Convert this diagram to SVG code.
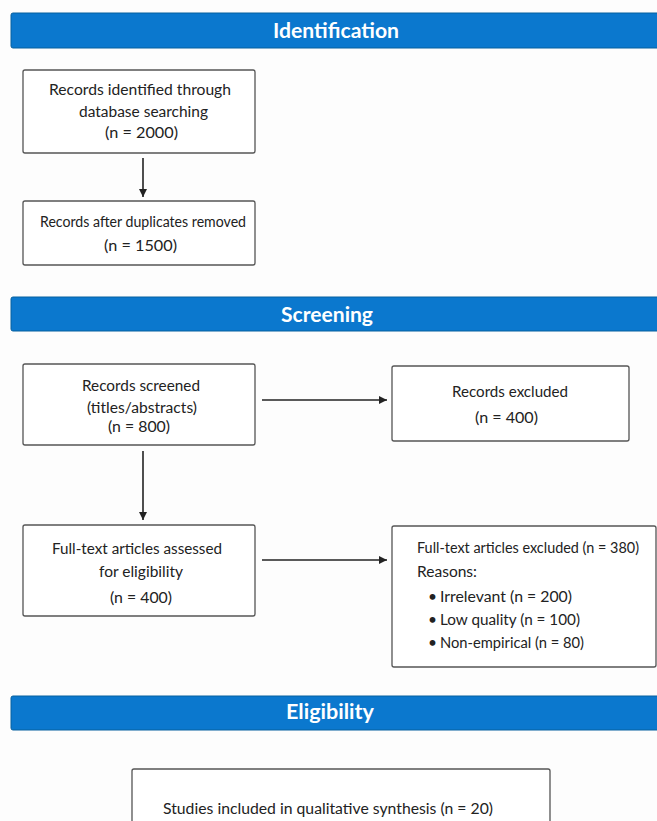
<svg xmlns="http://www.w3.org/2000/svg" width="657" height="821" viewBox="0 0 657 821">
<defs>
<marker id="ah" viewBox="0 0 10 10" refX="10" refY="5" markerWidth="8" markerHeight="8" markerUnits="userSpaceOnUse" orient="auto">
<path d="M0,0 L10,5 L0,10 Z" fill="#222"/>
</marker>
</defs>
<style>
.banner{fill:#0B78CE;stroke:#07609f;stroke-width:1}
.btxt{font-family:Lato,"Open Sans",sans-serif;font-weight:bold;font-size:21.5px;fill:#fff}
.box{fill:#fff;stroke:#555;stroke-width:1.3}
.t{font-family:Lato,"Noto Sans",sans-serif;font-size:15.5px;fill:#222}
.conn{stroke:#222;stroke-width:1.6;fill:none}
</style>
<rect width="657" height="821" fill="#fdfdfd"/>
<g id="banner-identification">
<rect class="banner" x="11" y="13" width="660" height="35" rx="2"/>
<text class="btxt" x="273" y="38" textLength="126" lengthAdjust="spacingAndGlyphs">Identification</text>
</g>
<g id="banner-screening">
<rect class="banner" x="11" y="297" width="660" height="34" rx="2"/>
<text class="btxt" x="281" y="322" textLength="92" lengthAdjust="spacingAndGlyphs">Screening</text>
</g>
<g id="banner-eligibility">
<rect class="banner" x="11" y="696" width="660" height="34" rx="2"/>
<text class="btxt" x="286" y="719" textLength="88" lengthAdjust="spacingAndGlyphs">Eligibility</text>
</g>
<g id="node-identified">
<rect class="box" x="23" y="70" width="232" height="83" rx="2"/>
<text class="t" x="49" y="95" textLength="182" lengthAdjust="spacingAndGlyphs">Records identified through</text>
<text class="t" x="79" y="117" textLength="129" lengthAdjust="spacingAndGlyphs">database searching</text>
<text class="t" x="105" y="138" textLength="73" lengthAdjust="spacingAndGlyphs">(n = 2000)</text>
</g>
<g id="node-duplicates">
<rect class="box" x="23" y="201" width="232" height="64" rx="2"/>
<text class="t" x="40" y="227" textLength="206" lengthAdjust="spacingAndGlyphs">Records after duplicates removed</text>
<text class="t" x="104" y="251" textLength="73" lengthAdjust="spacingAndGlyphs">(n = 1500)</text>
</g>
<g id="node-screened">
<rect class="box" x="23" y="364" width="232" height="81" rx="2"/>
<text class="t" x="82" y="391" textLength="118" lengthAdjust="spacingAndGlyphs">Records screened</text>
<text class="t" x="87" y="413" textLength="110" lengthAdjust="spacingAndGlyphs">(titles/abstracts)</text>
<text class="t" x="108" y="432" textLength="62" lengthAdjust="spacingAndGlyphs">(n = 800)</text>
</g>
<g id="node-excluded">
<rect class="box" x="392" y="366" width="237" height="75" rx="2"/>
<text class="t" x="452" y="397" textLength="116" lengthAdjust="spacingAndGlyphs">Records excluded</text>
<text class="t" x="475" y="423" textLength="63" lengthAdjust="spacingAndGlyphs">(n = 400)</text>
</g>
<g id="node-fulltext">
<rect class="box" x="23" y="525" width="232" height="91" rx="2"/>
<text class="t" x="52" y="554" textLength="170" lengthAdjust="spacingAndGlyphs">Full-text articles assessed</text>
<text class="t" x="99" y="577" textLength="84" lengthAdjust="spacingAndGlyphs">for eligibility</text>
<text class="t" x="110" y="603" textLength="62" lengthAdjust="spacingAndGlyphs">(n = 400)</text>
</g>
<g id="node-fulltext-excluded">
<rect class="box" x="392" y="526" width="264" height="141" rx="2"/>
<text class="t" x="417" y="553" textLength="222" lengthAdjust="spacingAndGlyphs">Full-text articles excluded (n = 380)</text>
<text class="t" x="417" y="577" textLength="60" lengthAdjust="spacingAndGlyphs">Reasons:</text>
<text class="t" x="428" y="602">•</text>
<text class="t" x="440" y="602" textLength="132" lengthAdjust="spacingAndGlyphs">Irrelevant (n = 200)</text>
<text class="t" x="428" y="625">•</text>
<text class="t" x="440" y="625" textLength="140" lengthAdjust="spacingAndGlyphs">Low quality (n = 100)</text>
<text class="t" x="428" y="648">•</text>
<text class="t" x="440" y="648" textLength="144" lengthAdjust="spacingAndGlyphs">Non-empirical (n = 80)</text>
</g>
<g id="node-included">
<rect class="box" x="132" y="769" width="418" height="70" rx="2"/>
<text class="t" x="163" y="814" textLength="330" lengthAdjust="spacingAndGlyphs">Studies included in qualitative synthesis (n = 20)</text>
</g>
<g id="connectors">
<line class="conn" x1="143" y1="158" x2="143" y2="197" marker-end="url(#ah)"/>
<line class="conn" x1="262" y1="400" x2="387" y2="400" marker-end="url(#ah)"/>
<line class="conn" x1="143" y1="451" x2="143" y2="520" marker-end="url(#ah)"/>
<line class="conn" x1="262" y1="560" x2="387" y2="560" marker-end="url(#ah)"/>
</g>
</svg>
